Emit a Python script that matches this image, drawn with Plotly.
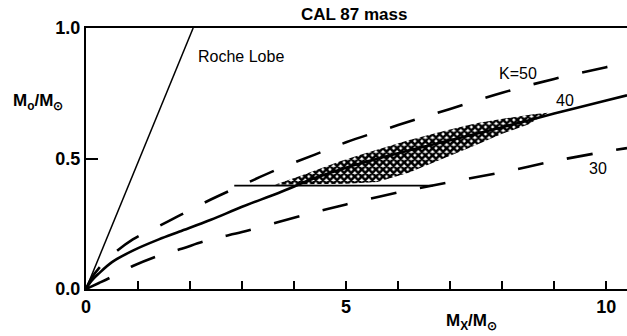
import plotly.graph_objects as go

# ---- data ----
mx = [0, 0.1, 0.25, 0.5, 0.9, 1.4, 1.8, 2.4, 3.0, 3.7, 4.4, 5.0, 6.0, 7.0, 8.0, 9.0, 10.0, 10.4]
mo_k40 = [0, 0.03, 0.06, 0.103, 0.147, 0.19, 0.22, 0.265, 0.315, 0.368, 0.425, 0.465, 0.52, 0.57, 0.62, 0.672, 0.722, 0.742]
mo_k50 = [0, 0.04, 0.08, 0.13, 0.19, 0.241, 0.282, 0.343, 0.398, 0.46, 0.515, 0.562, 0.628, 0.69, 0.752, 0.805, 0.85, 0.868]
mo_k30 = [0, 0.009, 0.023, 0.047, 0.088, 0.128, 0.152, 0.19, 0.218, 0.257, 0.294, 0.324, 0.37, 0.41, 0.447, 0.49, 0.527, 0.54]

roche_mx = [0, 2.06]
roche_mo = [0, 1.0]

limit_mx = [2.85, 6.67]
limit_mo = [0.396, 0.396]

hatch_mx = [3.63, 4.1, 4.9, 5.4, 6.2, 6.9, 7.5, 8.1, 8.6, 8.88,
            8.5, 8.0, 7.5, 6.8, 6.2, 5.6, 5.0, 4.3, 3.63]
hatch_mo = [0.399, 0.432, 0.49, 0.522, 0.57, 0.606, 0.635, 0.655, 0.67, 0.675,
            0.63, 0.595, 0.552, 0.494, 0.445, 0.41, 0.403, 0.401, 0.399]

x_tickvals = [0, 1, 2, 3, 4, 5, 6, 7, 8, 9, 10]
x_ticktext = ["<b>0</b>", "", "", "", "", "<b>5</b>", "", "", "", "", "<b>10</b>"]
y_tickvals = [0, 0.5, 1.0]
y_ticktext = ["<b>0.0</b>", "<b>0.5</b>", "<b>1.0</b>"]

curve_labels = ["K=50", "40", "30"]
label_x = [8.31, 9.21, 9.85]
label_y = [0.824, 0.724, 0.46]

FONT = "Liberation Sans"

fig = go.Figure()

fig.add_trace(go.Scatter(
    x=hatch_mx, y=hatch_mo, fill="toself", mode="none",
    fillcolor="white",
    fillpattern=dict(shape="x", size=5, solidity=0.75, fgcolor="black", bgcolor="white"),
    hoverinfo="skip"))

fig.add_trace(go.Scatter(x=roche_mx, y=roche_mo, mode="lines",
                         line=dict(color="black", width=1.5)))
fig.add_trace(go.Scatter(x=limit_mx, y=limit_mo, mode="lines",
                         line=dict(color="black", width=1.6)))
fig.add_trace(go.Scatter(x=mx, y=mo_k50, mode="lines", line_shape="spline",
                         line=dict(color="black", width=2.6, dash="26px,24px")))
fig.add_trace(go.Scatter(x=mx, y=mo_k30, mode="lines", line_shape="spline",
                         line=dict(color="black", width=2.6, dash="26px,24px")))
fig.add_trace(go.Scatter(x=mx, y=mo_k40, mode="lines", line_shape="spline",
                         line=dict(color="black", width=2.6)))

fig.add_annotation(x=2.115, y=0.889, text="Roche Lobe", showarrow=False,
                   xanchor="left", yanchor="middle",
                   font=dict(family=FONT, size=16, color="black"))
for t, lx, ly in zip(curve_labels, label_x, label_y):
    fig.add_annotation(x=lx, y=ly, text=t, showarrow=False,
                       xanchor="center", yanchor="middle",
                       font=dict(family=FONT, size=16, color="black"))

fig.add_annotation(xref="paper", yref="paper", x=0.495, y=1.05, text="<b>CAL 87 mass</b>",
                   showarrow=False, xanchor="center", yanchor="middle",
                   font=dict(family=FONT, size=17, color="black"))
fig.add_annotation(xref="paper", yref="paper", x=0.713, y=-0.128,
                   text="<b>M<sub>X</sub>/M<sub>⊙</sub></b>",
                   showarrow=False, xanchor="center", yanchor="middle",
                   font=dict(family=FONT, size=17, color="black"))
fig.add_annotation(xref="paper", yref="paper", x=-0.089, y=0.716,
                   text="<b>M<sub>o</sub>/M<sub>⊙</sub></b>",
                   showarrow=False, xanchor="center", yanchor="middle",
                   font=dict(family=FONT, size=17, color="black"))

fig.update_layout(
    template="none",
    width=627, height=336,
    margin=dict(l=86, r=0, t=28, b=47),
    plot_bgcolor="white", paper_bgcolor="white",
    showlegend=False,
    xaxis=dict(range=[0, 10.4], showline=True, linecolor="black", linewidth=2,
               mirror=True, ticks="inside", ticklen=8, tickwidth=2, tickcolor="black",
               tickvals=x_tickvals, ticktext=x_ticktext,
               showgrid=False, zeroline=False,
               tickfont=dict(family=FONT, size=18, color="black")),
    yaxis=dict(range=[0, 1], showline=True, linecolor="black", linewidth=2,
               ticks="inside", ticklen=12, tickwidth=2, tickcolor="black",
               tickvals=y_tickvals, ticktext=y_ticktext, showgrid=False, zeroline=False,
               tickfont=dict(family=FONT, size=18, color="black")),
)

fig.write_html("out.html")
